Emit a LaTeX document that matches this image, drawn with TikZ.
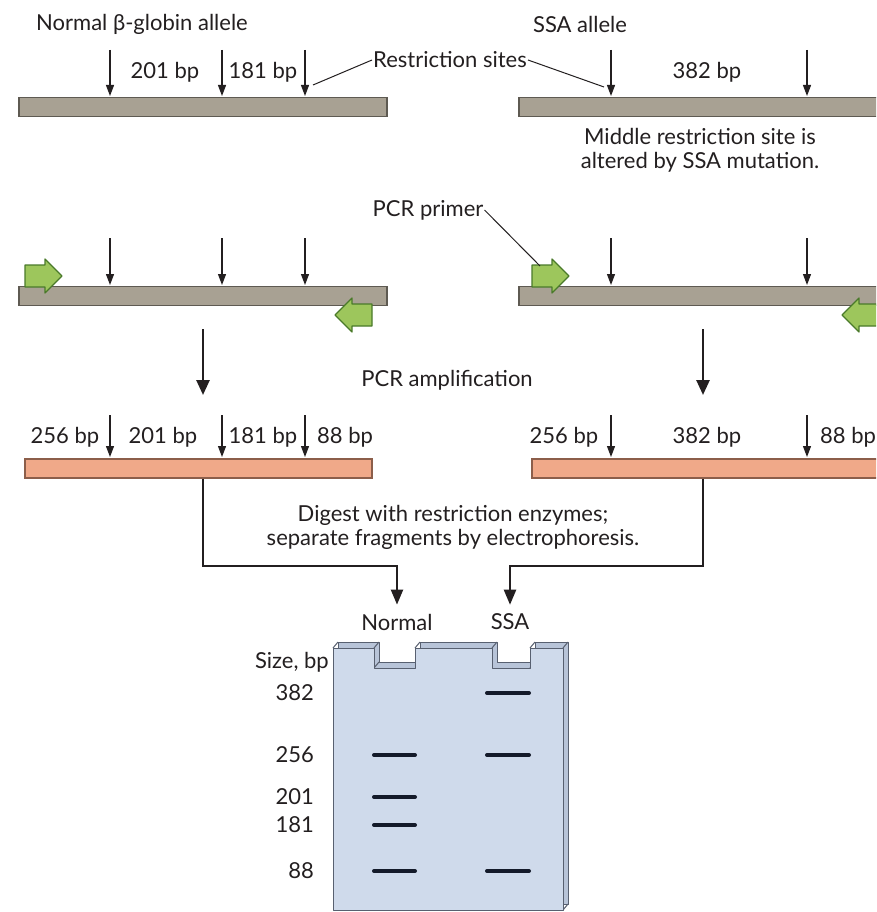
\documentclass[tikz,border=0pt]{standalone}
\usepackage{fontspec}
\setmainfont{Lato}
\usetikzlibrary{arrows.meta,positioning}
\definecolor{dna}{HTML}{A8A193}
\definecolor{dnaedge}{HTML}{5E5A52}
\definecolor{amp}{HTML}{F0A989}
\definecolor{ampedge}{HTML}{8C5E4A}
\definecolor{primer}{HTML}{9DC65C}
\definecolor{primeredge}{HTML}{4A7A2A}
\definecolor{gel}{HTML}{CFDAEB}
\definecolor{gelside}{HTML}{B8C4D8}
\definecolor{geledge}{HTML}{586070}
\definecolor{band}{HTML}{141A2A}
\definecolor{ink}{HTML}{231F20}

\tikzset{
  lbl/.style={font=\fontsize{22}{24}\selectfont, text=ink, inner sep=1pt},
  dnabar/.style={draw=dnaedge, fill=dna, line width=1.5pt, minimum height=19pt, inner sep=0pt},
  ampbar/.style={draw=ampedge, fill=amp, line width=1.2pt, minimum height=19pt, inner sep=0pt},
  cut/.style={ink, line width=1.2pt, -{Triangle[length=11pt,width=8pt]}},
  bigarrow/.style={ink, line width=2.6pt, -{Triangle[length=15pt,width=13pt]}},
  flow/.style={ink, line width=2.2pt, -{Triangle[length=15pt,width=12pt]}},
  leader/.style={ink, line width=1pt},
  primerbox/.style={draw=primeredge, fill=primer, line width=1.2pt, line join=round},
  gelband/.style={band, line width=4pt, line cap=round},
}

\begin{document}
\begin{tikzpicture}[x=1pt, y=-1pt]
  \fill[white] (0,0) rectangle (876,912);
  \useasboundingbox (0,0) rectangle (876,912);
  \clip (0,0) rectangle (876,912);

  % Alleles before PCR
  \node[lbl] (normal) at (142,24) {Normal β-globin allele};
  \node[lbl] (ssa) at (580,24) {SSA allele};
  \node[dnabar, minimum width=368pt] (top-l) at (203,107) {};
  \node[dnabar, minimum width=368pt] (top-r) at (703,107) {};
  \foreach \x in {110,222,305,611,807}
    \draw[cut] (\x,50) -- (\x,96);
  \node[lbl] at (165,72) {201 bp};
  \node[lbl] at (263,72) {181 bp};
  \node[lbl] at (707,72) {382 bp};

  \node[lbl] (rs) at (450,60) {Restriction sites};
  \coordinate (site-b) at (313,85);
  \coordinate (site-ssa) at (604,87);
  \draw[leader] (rs.west) -- (site-b);
  \draw[leader] (rs.east) -- (site-ssa);
  \node[lbl, align=center] (mid) at (700,150) {Middle restriction site is\\altered by SSA mutation.};

  % With primers
  \node[dnabar, minimum width=368pt] (pcr-l) at (203,296) {};
  \node[dnabar, minimum width=368pt] (pcr-r) at (703,296) {};
  \foreach \x in {110,222,305,611,807}
    \draw[cut] (\x,238) -- (\x,285);
  \foreach \px/\py/\dir in {25/276/1, 372/315/-1, 532/276/1, 879/315/-1}
    \draw[primerbox, shift={(\px,\py)}, xscale=\dir]
      (0,-11) -- (20,-11) -- (20,-17) -- (37,0) -- (20,17) -- (20,11) -- (0,11) -- cycle;
  \node[lbl] (pp) at (428,210) {PCR primer};
  \coordinate (primer-tip) at (540,266);
  \draw[leader] (pp.east) -- (primer-tip);

  \draw[bigarrow, shorten <=23pt, shorten >=64pt] (pcr-l.south) -- (pcr-l.south |- 0,459);
  \draw[bigarrow, shorten <=23pt, shorten >=64pt] (pcr-r.south) -- (pcr-r.south |- 0,459);
  \node[lbl] (amplify) at (447,380) {PCR amplification};

  % Amplified products
  \node[ampbar, minimum width=347pt] (amp-l) at (198.5,468.5) {};
  \node[ampbar, minimum width=358pt] (amp-r) at (711,468.5) {};
  \foreach \x in {110,222,305,611,807}
    \draw[cut] (\x,415) -- (\x,457);
  \node[lbl] at (65,437) {256 bp};
  \node[lbl] at (163,437) {201 bp};
  \node[lbl] at (263,437) {181 bp};
  \node[lbl] at (345,437) {88 bp};
  \node[lbl] at (564,437) {256 bp};
  \node[lbl] at (707,437) {382 bp};
  \node[lbl] at (848,437) {88 bp};

  \node[lbl, align=center] (digest) at (453,527) {Digest with restriction enzymes;\\separate fragments by electrophoresis.};

  % Gel
  \node[lbl] (lane-n) at (397,622) {Normal};
  \node[lbl] (lane-s) at (510,622) {SSA};
  \draw[flow, shorten >=8pt] (pcr-l.south |- amp-l.south) -- ++(0,87) -| (lane-n.north);
  \draw[flow, shorten >=8pt] (pcr-r.south |- amp-r.south) -- ++(0,87) -| (lane-s.north);

  \draw[draw=geledge, fill=gelside, line width=1pt, line join=round, shift={(5,-6)}]
    (333,648) -- (374,648) -- (374,668) -- (415,668) -- (415,648) -- (492,648) -- (492,668)
    -- (530,668) -- (530,648) -- (563,648) -- (563,910) -- (333,910) -- cycle;
  \foreach \x/\y in {333/648, 374/648, 415/648, 492/648, 530/648, 563/648, 563/910, 374/668, 530/668}
    \draw[geledge, line width=1pt] (\x,\y) -- ++(5,-6);
  \draw[draw=geledge, fill=gel, line width=1pt, line join=round]
    (333,648) -- (374,648) -- (374,668) -- (415,668) -- (415,648) -- (492,648) -- (492,668)
    -- (530,668) -- (530,648) -- (563,648) -- (563,910) -- (333,910) -- cycle;

  \foreach \y in {755,797,825,871}
    \draw[gelband] (374,\y) -- (415,\y);
  \foreach \y in {693,755,871}
    \draw[gelband] (487,\y) -- (529,\y);

  \node[lbl, anchor=east] (size) at (330,662) {Size, bp};
  \foreach \y/\s in {693/382, 755/256, 797/201, 825/181, 871/88}
    \node[lbl, anchor=east] at (315,\y) {\s};
\end{tikzpicture}
\end{document}
